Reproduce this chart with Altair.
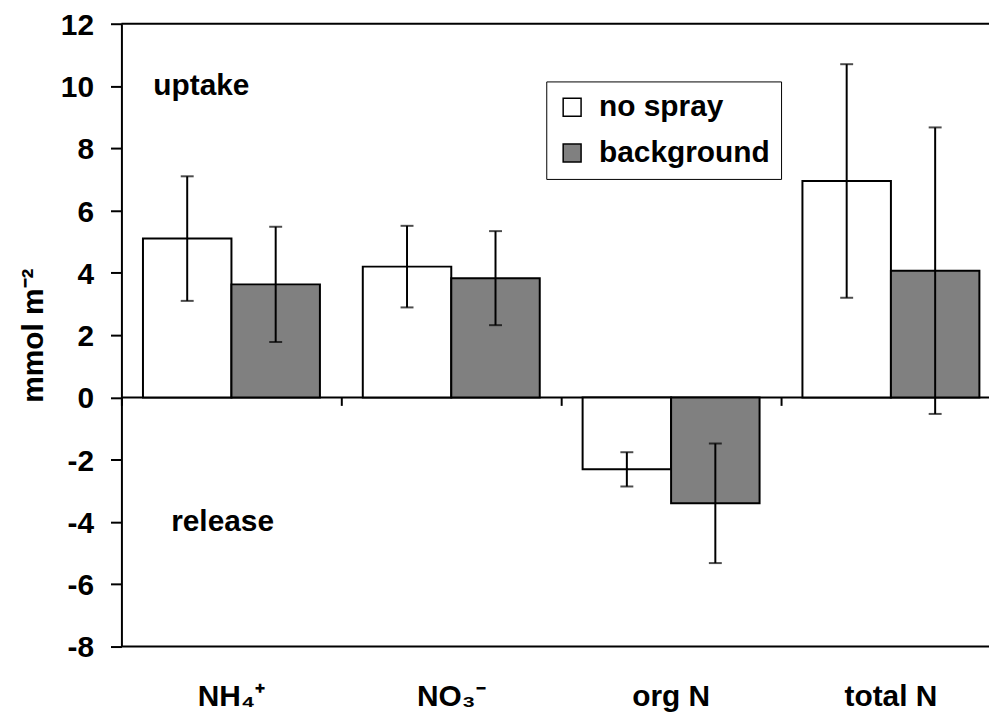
import altair as alt
import pandas as pd

categories = ["NH₄⁺", "NO₃⁻", "org N", "total N"]
series = ["no spray", "background"]
nospray_mean = [5.1, 4.2, -2.31, 6.95]
nospray_err = [2.0, 1.31, 0.55, 3.75]
background_mean = [3.63, 3.83, -3.4, 4.07]
background_err = [1.85, 1.51, 1.92, 4.6]
y_ticks = [-8, -6, -4, -2, 0, 2, 4, 6, 8, 10, 12]
annotations = ["uptake", "release"]
annotation_y = [10, -4]

rows = []
for i, c in enumerate(categories):
    rows.append({"cat": c, "series": series[0], "value": nospray_mean[i],
                 "lo": nospray_mean[i] - nospray_err[i], "hi": nospray_mean[i] + nospray_err[i]})
    rows.append({"cat": c, "series": series[1], "value": background_mean[i],
                 "lo": background_mean[i] - background_err[i], "hi": background_mean[i] + background_err[i]})
df = pd.DataFrame(rows)

FONT = "Liberation Sans"
W, H = 872, 626
STEP = 884 / 4

xscale = alt.Scale(domain=categories, range=[0, 884], paddingInner=0.195, paddingOuter=0.098)
yscale = alt.Scale(domain=[-8, 12], nice=False, zero=False)
off_scale = alt.Scale(domain=series)

base = alt.Chart(df)

bars = base.mark_bar(stroke="black", strokeWidth=2).encode(
    x=alt.X("cat:N", scale=xscale, sort=categories, title=None,
            axis=alt.Axis(orient="bottom", domain=False, ticks=False, labelPadding=35,
                          labelFont=FONT, labelFontSize=30, labelFontWeight="bold",
                          labelColor="black", labelAngle=0)),
    xOffset=alt.XOffset("series:N", scale=off_scale, sort=series),
    y=alt.Y("value:Q", scale=yscale, title="mmol m⁻²",
            axis=alt.Axis(values=y_ticks, grid=False, domainWidth=2, domainColor="black",
                          tickColor="black", tickWidth=2, tickSize=11, labelPadding=17,
                          labelExpr="'' + datum.value", labelOffset=1.5,
                          labelFont=FONT, labelFontSize=30, labelFontWeight="bold",
                          labelColor="black", titleFont=FONT, titleFontSize=30,
                          titleFontWeight="bold", titleColor="black", titlePadding=12)),
    color=alt.Color("series:N", sort=series,
                    scale=alt.Scale(domain=series, range=["white", "#808080"]),
                    legend=alt.Legend(orient="none", legendX=427, legendY=58, title=None,
                                      symbolType="square", symbolSize=324,
                                      symbolStrokeColor="black", symbolStrokeWidth=1.5,
                                      labelFont=FONT, labelFontSize=30, labelFontWeight="bold",
                                      labelColor="black", labelOffset=12, rowPadding=16,
                                      labelLimit=0, padding=11,
                                      fillColor="white", strokeColor="black")),
)

err = base.mark_rule(color="black", strokeWidth=2).encode(
    x=alt.X("cat:N", scale=xscale, sort=categories, title=None,
            axis=alt.Axis(orient="bottom", offset=-250.4, labels=False, domain=False,
                          ticks=True, tickSize=8, tickWidth=2, tickColor="black",
                          tickOffset=-STEP / 2)),
    xOffset=alt.XOffset("series:N", scale=off_scale, sort=series),
    y=alt.Y("lo:Q", scale=yscale),
    y2="hi:Q",
)

cap_lo = base.mark_tick(color="black", thickness=2, size=13, orient="horizontal").encode(
    x=alt.X("cat:N", scale=xscale, sort=categories, axis=None),
    xOffset=alt.XOffset("series:N", scale=off_scale, sort=series),
    y=alt.Y("lo:Q", scale=yscale),
)
cap_hi = base.mark_tick(color="black", thickness=2, size=13, orient="horizontal").encode(
    x=alt.X("cat:N", scale=xscale, sort=categories, axis=None),
    xOffset=alt.XOffset("series:N", scale=off_scale, sort=series),
    y=alt.Y("hi:Q", scale=yscale),
)

lines = alt.Chart(pd.DataFrame({"y": [12, 0, -8]})).mark_rule(color="black", strokeWidth=2).encode(
    y=alt.Y("y:Q", scale=yscale)
)

ann = alt.Chart(pd.DataFrame({"label": annotations, "y": annotation_y,
                              "px": [32, 50]})).mark_text(
    font=FONT, fontSize=30, fontWeight="bold", color="black", align="left", baseline="middle"
).encode(
    x=alt.X("px:Q", scale=None),
    y=alt.Y("y:Q", scale=yscale),
    text="label:N",
)

chart = alt.layer(lines, bars, err, cap_lo, cap_hi, ann).resolve_axis(x="independent").properties(
    width=W, height=H,
    autosize=alt.AutoSizeParams(type="none"),
    padding={"left": 114, "top": 14, "right": 0, "bottom": 66},
).configure_view(stroke=None).configure_axis(grid=False)

chart.save("out.html", embed_options={"renderer": "svg", "actions": False})
